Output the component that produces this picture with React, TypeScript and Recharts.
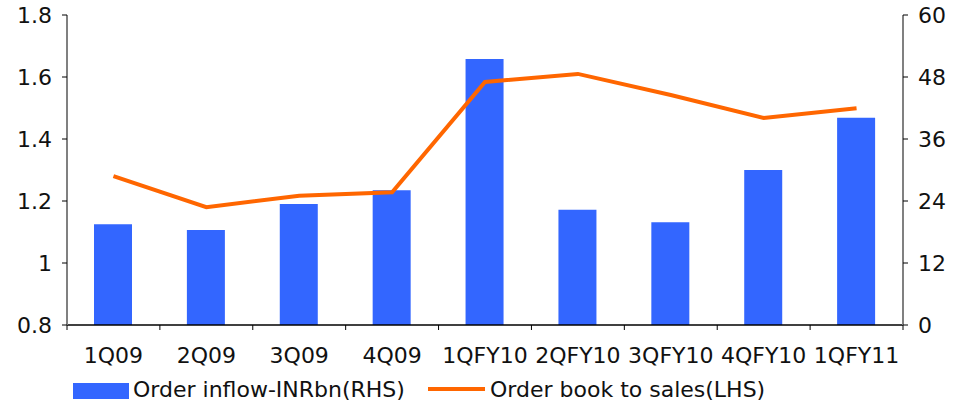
import { ComposedChart, Bar, Line, XAxis, YAxis, Legend } from 'recharts';

const quarters = ['1Q09', '2Q09', '3Q09', '4Q09', '1QFY10', '2QFY10', '3QFY10', '4QFY10', '1QFY11'];
const orderInflow = [19.5, 18.4, 23.4, 26.1, 51.5, 22.3, 19.9, 30.0, 40.1];
const orderBookToSales = [1.28, 1.18, 1.217, 1.228, 1.584, 1.61, 1.542, 1.468, 1.499];
const lhsTicks = [0.8, 1, 1.2, 1.4, 1.6, 1.8];
const rhsTicks = [0, 12, 24, 36, 48, 60];

const data = quarters.map((q, i) => ({
  quarter: q,
  inflow: orderInflow[i],
  bookToSales: orderBookToSales[i],
}));

const W = 961;
const H = 402;
const LEFT_W = 67;
const RIGHT_W = 58;
const FONT = '"DejaVu Sans", Verdana, sans-serif';
const TEXT = '#111';
const BLUE = '#3366FF';
const ORANGE = '#FF6600';

const bandWidth = (W - LEFT_W - RIGHT_W) / quarters.length;

// category ticks sit on the band edges, labels at band centres
const QuarterTick = (props: any) => {
  const { x, y, payload, index } = props;
  const left = x - bandWidth / 2;
  const right = x + bandWidth / 2;
  return (
    <g>
      <line x1={left} x2={left} y1={y} y2={y + 5} stroke="#000" />
      {index === quarters.length - 1 && (
        <line x1={right} x2={right} y1={y} y2={y + 5} stroke="#000" />
      )}
      <text x={x} y={y + 38} textAnchor="middle" fill={TEXT} fontSize={22} fontFamily={FONT}>
        {payload.value}
      </text>
    </g>
  );
};

const LegendBox = () => (
  <div style={{ position: 'relative', height: 42, width: W, fontFamily: FONT, fontSize: 22, color: TEXT }}>
    <div style={{ position: 'absolute', left: 73, top: 23, width: 56, height: 16, background: BLUE }} />
    <span style={{ position: 'absolute', left: 133, top: 16, lineHeight: '28px', whiteSpace: 'nowrap' }}>
      Order inflow-INRbn(RHS)
    </span>
    <div style={{ position: 'absolute', left: 428, top: 27, width: 57, height: 4, background: ORANGE }} />
    <span style={{ position: 'absolute', left: 490, top: 16, lineHeight: '28px', whiteSpace: 'nowrap' }}>
      Order book to sales(LHS)
    </span>
  </div>
);

export default function App() {
  return (
    <div style={{ position: 'absolute', left: 0, top: 0, width: W, height: H, background: '#fff' }}>
      <ComposedChart width={W} height={H} data={data} margin={{ top: 15, right: 0, bottom: 0, left: 0 }}>
        <XAxis
          dataKey="quarter"
          height={35}
          interval={0}
          tick={<QuarterTick />}
          tickLine={false}
          tickSize={0}
          tickMargin={0}
          axisLine={{ stroke: '#000', strokeWidth: 1.5 }}
        />
        <YAxis
          yAxisId="lhs"
          orientation="left"
          width={LEFT_W}
          domain={[0.8, 1.8]}
          ticks={lhsTicks}
          interval={0}
          tickSize={5}
          tickMargin={10}
          tickLine={{ stroke: '#000' }}
          axisLine={{ stroke: '#808080', strokeWidth: 2 }}
          tick={{ fill: TEXT, fontSize: 22, fontFamily: FONT }}
        />
        <YAxis
          yAxisId="rhs"
          orientation="right"
          width={RIGHT_W}
          domain={[0, 60]}
          ticks={rhsTicks}
          interval={0}
          tickSize={5}
          tickMargin={10}
          tickLine={{ stroke: '#000' }}
          axisLine={{ stroke: '#808080', strokeWidth: 2 }}
          tick={{ fill: TEXT, fontSize: 22, fontFamily: FONT }}
        />
        <Bar yAxisId="rhs" dataKey="inflow" fill={BLUE} barSize={38} isAnimationActive={false} />
        <Line
          yAxisId="lhs"
          dataKey="bookToSales"
          type="linear"
          stroke={ORANGE}
          strokeWidth={4}
          dot={false}
          activeDot={false}
          isAnimationActive={false}
        />
        <Legend verticalAlign="bottom" height={42} content={<LegendBox />} />
      </ComposedChart>
    </div>
  );
}
